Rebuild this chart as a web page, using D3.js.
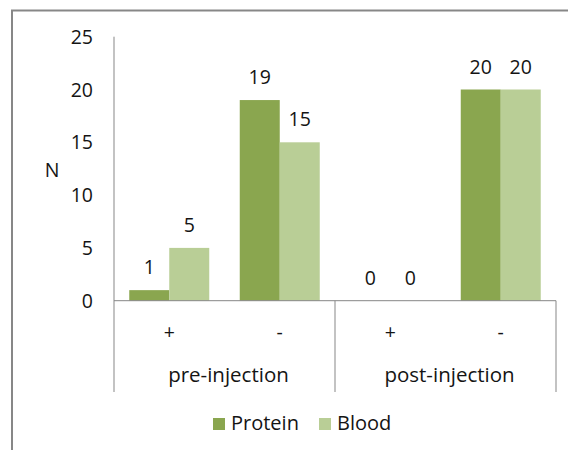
<!DOCTYPE html>
<html>
<head>
<meta charset="utf-8">
<script src="https://cdn.jsdelivr.net/npm/d3@7"></script>
<style>
  html, body { margin: 0; padding: 0; background: #fff; overflow: hidden; }
  text { font-family: 'Open Sans', sans-serif; fill: #141414; }
</style>
</head>
<body>
<script>
const groups = ['pre-injection', 'post-injection'];
const categories = ['+', '-', '+', '-'];
const series = ['Protein', 'Blood'];
const protein = [1, 19, 0, 20];
const blood = [5, 15, 0, 20];
const yTicks = [0, 5, 10, 15, 20, 25];

const width = 568,
  height = 450,
  fontSize = 19.5;

const colors = { Protein: '#8aa64f', Blood: '#b9ce96' };
const axisColor = '#878787';

const svg = d3.select('body').append('svg')
  .attr('width', width)
  .attr('height', height);

// chart frame, runs off the right and bottom of the picture
svg.append('rect')
  .attr('x', 12)
  .attr('y', 10.5)
  .attr('width', 620)
  .attr('height', 500)
  .attr('fill', 'none')
  .attr('stroke', axisColor)
  .attr('stroke-width', 2);

const plot = { left: 114, right: 556, top: 36.7, bottom: 300.7, axisEnd: 392 };

const y = d3.scaleLinear()
  .domain([0, 25])
  .range([plot.bottom, plot.top]);

const x0 = d3.scaleBand()
  .domain(d3.range(categories.length))
  .range([plot.left, plot.right]);

const x1 = d3.scaleBand()
  .domain(series)
  .range([0, x0.bandwidth()])
  .paddingOuter(0.38125);

const xg = d3.scaleBand()
  .domain(groups)
  .range([plot.left, plot.right]);

const rows = categories.map((c, i) => ({
  i, cat: c, values: [
    { key: 'Protein', value: protein[i] },
    { key: 'Blood', value: blood[i] }
  ]
}));

// bars
const cat = svg.selectAll('.cat')
  .data(rows)
  .enter().append('g')
    .attr('class', 'cat')
    .attr('transform', (d) => `translate(${x0(d.i)},0)`);

cat.selectAll('rect')
  .data((d) => d.values)
  .enter().append('rect')
    .attr('x', (d) => x1(d.key))
    .attr('y', (d) => y(d.value))
    .attr('width', x1.bandwidth())
    .attr('height', (d) => y(0) - y(d.value))
    .attr('fill', (d) => colors[d.key]);

cat.selectAll('text')
  .data((d) => d.values)
  .enter().append('text')
    .attr('x', (d) => x1(d.key) + x1.bandwidth() / 2)
    .attr('y', (d) => y(d.value) - 16)
    .attr('text-anchor', 'middle')
    .style('font-size', fontSize + 'px')
    .text((d) => d.value);

// y axis
svg.append('line')
  .attr('x1', plot.left).attr('x2', plot.left)
  .attr('y1', y(25)).attr('y2', plot.axisEnd)
  .attr('stroke', axisColor);

svg.selectAll('.ytick')
  .data(yTicks)
  .enter().append('text')
    .attr('class', 'ytick')
    .attr('x', 93)
    .attr('y', (d) => y(d) + 7)
    .attr('text-anchor', 'end')
    .style('font-size', fontSize + 'px')
    .text((d) => d);

svg.append('text')
  .attr('x', 52)
  .attr('y', 177)
  .attr('text-anchor', 'middle')
  .style('font-size', fontSize + 'px')
  .text('N');

// x axis with two levels of labels
svg.append('line')
  .attr('x1', plot.left).attr('x2', plot.right)
  .attr('y1', y(0)).attr('y2', y(0))
  .attr('stroke', axisColor);

svg.selectAll('.gsep')
  .data(groups)
  .enter().append('line')
    .attr('class', 'gsep')
    .attr('x1', (d) => xg(d) + xg.bandwidth())
    .attr('x2', (d) => xg(d) + xg.bandwidth())
    .attr('y1', y(0)).attr('y2', plot.axisEnd)
    .attr('stroke', axisColor);

svg.selectAll('.xcat')
  .data(rows)
  .enter().append('text')
    .attr('class', 'xcat')
    .attr('x', (d) => x0(d.i) + x0.bandwidth() / 2)
    .attr('y', 339)
    .attr('text-anchor', 'middle')
    .style('font-size', fontSize + 'px')
    .text((d) => d.cat);

svg.selectAll('.xgroup')
  .data(groups)
  .enter().append('text')
    .attr('class', 'xgroup')
    .attr('x', (d) => xg(d) + xg.bandwidth() / 2 + 4)
    .attr('y', 382)
    .attr('text-anchor', 'middle')
    .style('font-size', '20.5px')
    .text((d) => d);

// legend
const legend = svg.append('g')
  .attr('transform', 'translate(213,418)');

const legendX = [0, 106];

const item = legend.selectAll('.item')
  .data(series)
  .enter().append('g')
    .attr('class', 'item')
    .attr('transform', (d, i) => `translate(${legendX[i]},0)`);

item.append('rect')
  .attr('width', 12)
  .attr('height', 12)
  .attr('fill', (d) => colors[d]);

item.append('text')
  .attr('x', 18)
  .attr('y', 12)
  .style('font-size', '20px')
  .text((d) => d);
</script>
</body>
</html>
